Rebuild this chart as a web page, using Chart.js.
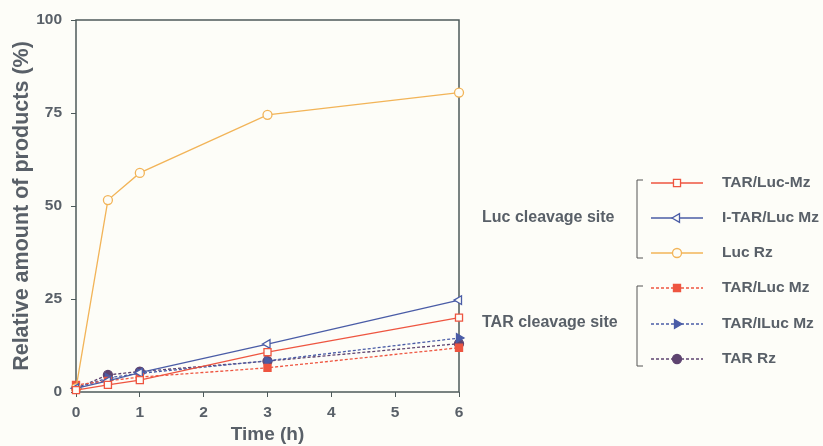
<!DOCTYPE html>
<html><head><meta charset="utf-8">
<script src="https://cdn.jsdelivr.net/npm/chart.js@4/dist/chart.umd.min.js"></script>
<style>html,body{margin:0;padding:0;background:#fdfdf8;}#wrap{width:823px;height:446px;}</style>
</head><body><div id="wrap"><canvas id="c" width="823" height="446"></canvas></div>
<script>
const timeH = [0, 0.5, 1, 3, 6];
const tarLucMzOpen = [0.5, 1.9, 3.2, 10.7, 20];
const iTarLucMz = [1, 3, 5.2, 12.9, 24.7];
const lucRz = [1, 51.6, 58.9, 74.5, 80.5];
const tarLucMzFilled = [1.9, 3, 4, 6.5, 11.9];
const tarILucMz = [1, 3.8, 5, 8.4, 14.5];
const tarRz = [1, 4.6, 5.5, 8.3, 13];
const yTicks = [0, 25, 50, 75, 100];
const xTicks = [0, 1, 2, 3, 4, 5, 6];
const groupLabels = ['Luc cleavage site', 'TAR cleavage site'];

const TXT = '#596068';
const FONT = '"Liberation Sans", Arial, sans-serif';
const RED = '#ee5540', BLUE = '#4a5ca6', ORANGE = '#f2b458', PURPLE = '#5e4470', BG = '#fdfdf8';
const pts = a => a.map((v, i) => ({x: timeH[i], y: v}));

const ds = [
  {label: 'TAR/Luc-Mz', data: pts(tarLucMzOpen), borderColor: RED, backgroundColor: BG, pointStyle: 'rect', pointRadius: 5, borderDash: []},
  {label: 'I-TAR/Luc Mz', data: pts(iTarLucMz), borderColor: BLUE, backgroundColor: BG, pointStyle: 'triangle', pointRotation: -90, pointRadius: 5, borderDash: []},
  {label: 'Luc Rz', data: pts(lucRz), borderColor: ORANGE, backgroundColor: BG, pointStyle: 'circle', pointRadius: 4.5, borderDash: []},
  {label: 'TAR/Luc Mz', data: pts(tarLucMzFilled), borderColor: RED, backgroundColor: RED, pointStyle: 'rect', pointRadius: 5, borderDash: [3, 2]},
  {label: 'TAR/ILuc Mz', data: pts(tarILucMz), borderColor: BLUE, backgroundColor: BLUE, pointStyle: 'triangle', pointRotation: 90, pointRadius: 5, borderDash: [3, 2]},
  {label: 'TAR Rz', data: pts(tarRz), borderColor: PURPLE, backgroundColor: PURPLE, pointStyle: 'circle', pointRadius: 4.5, borderDash: [3, 2]}
].map(d => Object.assign({borderWidth: 1.3, pointBorderWidth: 1.3, pointBorderColor: d.borderColor, pointBackgroundColor: d.backgroundColor, tension: 0, fill: false, clip: false}, d));

const frame = {
  id: 'frame',
  beforeDatasetsDraw(chart) {
    const {ctx, chartArea: a} = chart;
    ctx.save();
    ctx.strokeStyle = '#4d5a5a';
    ctx.lineWidth = 1.5;
    ctx.strokeRect(a.left, a.top, a.right - a.left, a.bottom - a.top);
    ctx.restore();
  },
  afterDraw(chart) {
    const ctx = chart.ctx;
    const rows = [183, 218, 253, 288, 324, 359];
    ctx.save();
    ctx.font = 'bold 15.5px ' + FONT;
    ctx.textBaseline = 'middle';
    chart.data.datasets.forEach((d, i) => {
      const y = rows[i];
      ctx.strokeStyle = d.borderColor;
      ctx.lineWidth = 1.3;
      ctx.setLineDash(d.borderDash);
      ctx.beginPath(); ctx.moveTo(651, y); ctx.lineTo(703, y); ctx.stroke();
      ctx.setLineDash([]);
      ctx.fillStyle = d.backgroundColor;
      ctx.strokeStyle = d.borderColor;
      Chart.helpers.drawPoint(ctx, {pointStyle: d.pointStyle, rotation: d.pointRotation || 0, radius: d.pointRadius, borderWidth: 1.3}, 677, y);
      ctx.fillStyle = TXT;
      ctx.textAlign = 'left';
      ctx.fillText(d.label, 722, y);
    });
    ctx.font = 'bold 16px ' + FONT;
    ctx.fillStyle = TXT;
    ctx.strokeStyle = '#555';
    ctx.lineWidth = 1;
    const groups = [[180, 258, 218], [286, 366, 323]];
    groups.forEach((g, i) => {
      ctx.fillText(groupLabels[i], 482, g[2]);
      ctx.beginPath();
      ctx.moveTo(643, g[0]); ctx.lineTo(637, g[0]); ctx.lineTo(637, g[1]); ctx.lineTo(643, g[1]);
      ctx.stroke();
    });
    ctx.restore();
  }
};

new Chart(document.getElementById('c'), {
  type: 'line',
  data: {datasets: ds},
  plugins: [frame],
  options: {
    responsive: false,
    animation: false,
    layout: {padding: {top: 20, right: 364, left: 9, bottom: 0}},
    plugins: {legend: {display: false}, tooltip: {enabled: false}},
    scales: {
      x: {
        type: 'linear', min: 0, max: 6,
        afterFit: s => { s.height = 54; },
        afterBuildTicks: s => { s.ticks = xTicks.map(v => ({value: v})); },
        grid: {drawOnChartArea: false, drawTicks: true, tickLength: 5, color: '#4d5a5a'},
        border: {display: false},
        ticks: {color: TXT, font: {family: FONT, weight: 'bold', size: 15.5}, padding: 6, maxRotation: 0},
        title: {display: true, text: 'Time (h)', color: TXT, font: {family: FONT, weight: 'bold', size: 19}, padding: {top: 0, bottom: 0}}
      },
      y: {
        type: 'linear', min: 0, max: 100,
        afterFit: s => { s.width = 67; },
        afterBuildTicks: s => { s.ticks = yTicks.map(v => ({value: v})); },
        grid: {drawOnChartArea: false, drawTicks: true, tickLength: 5, color: '#4d5a5a'},
        border: {display: false},
        ticks: {color: TXT, font: {family: FONT, weight: 'bold', size: 15.5}, padding: 9},
        title: {display: true, text: 'Relative amount of products (%)', color: TXT, font: {family: FONT, weight: 'bold', size: 21.5}, padding: {top: 0, bottom: 0}}
      }
    }
  }
});
</script></body></html>
